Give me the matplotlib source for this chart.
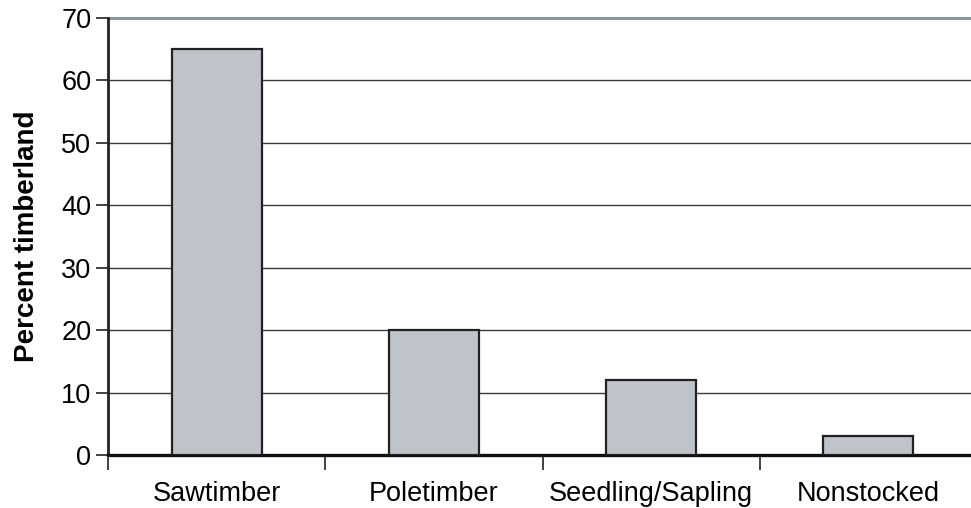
import matplotlib
matplotlib.use("Agg")
import matplotlib.pyplot as plt
import numpy as np

categories = ["Sawtimber", "Poletimber", "Seedling/Sapling", "Nonstocked"]
values = [65, 20, 12, 3]
yticks = [0, 10, 20, 30, 40, 50, 60, 70]

plt.rcParams['font.family'] = ['Liberation Sans', 'DejaVu Sans']

fig = plt.figure(figsize=(9.71, 5.08), dpi=100)
W, H = 971, 508
left, right = 108, 977
bottom, top = 455, 18
ax = fig.add_axes([left / W, (H - bottom) / H, (right - left) / W, (bottom - top) / H])

x = np.arange(len(categories))
ax.bar(x, values, width=0.415, color="#bfc3ca", edgecolor="#222222", linewidth=1.6, zorder=3)

ax.set_xlim(-0.5, len(categories) - 0.5)
ax.set_ylim(0, 70)
ax.set_yticks(yticks)
ax.set_yticklabels([str(v) for v in yticks], fontsize=19.5)
for v in yticks[1:-1]:
    ax.axhline(v, color="#3a3a3a", linewidth=1.0, zorder=1)
ax.axhline(70, color="#8c959c", linewidth=2.2, zorder=1, clip_on=False)

ax.set_xticks(x)
ax.set_xticklabels(categories, fontsize=19.5)
ax.tick_params(axis='x', length=0, pad=19)
ax.set_xticks(np.arange(len(categories) + 1) - 0.5, minor=True)
ax.tick_params(axis='x', which='minor', length=11, width=1.2, color="#222222")
ax.tick_params(axis='y', length=9, width=1.2, color="#222222", pad=3)

for s in ["top", "right"]:
    ax.spines[s].set_visible(False)
ax.spines["left"].set_linewidth(2.0)
ax.spines["left"].set_color("#222222")
ax.spines["bottom"].set_linewidth(2.4)
ax.spines["bottom"].set_color("#111111")

ax.set_ylabel("Percent timberland", fontsize=20, fontweight="bold", labelpad=15)

fig.savefig("out.png", dpi=100)
